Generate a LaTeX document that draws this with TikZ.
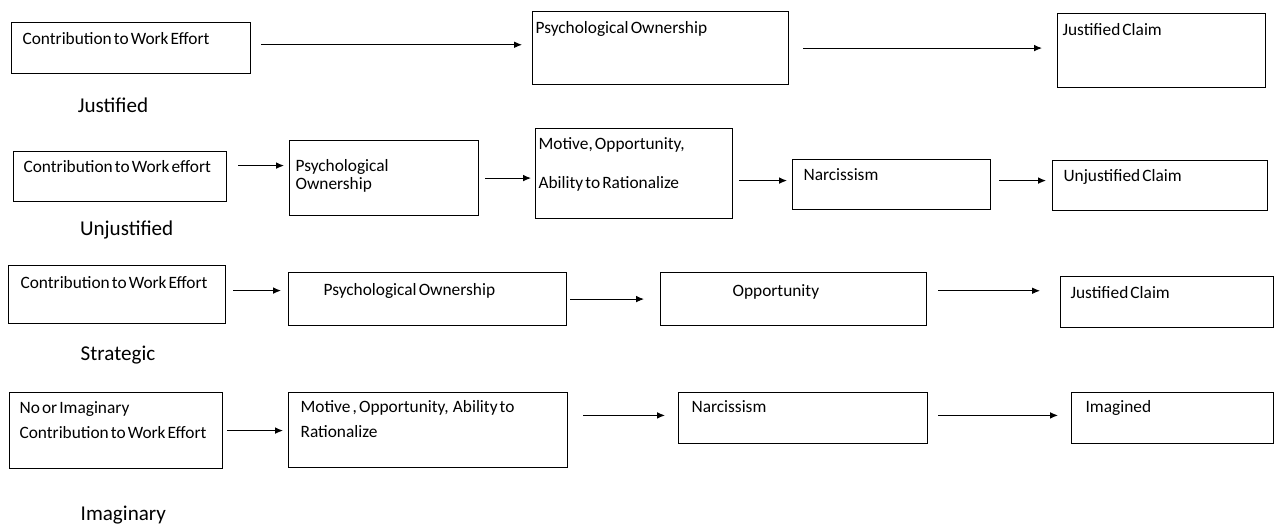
\documentclass[tikz,border=0pt]{standalone}
\usepackage{fontspec}
\setmainfont{Carlito}
\usepackage{tikz}
\usetikzlibrary{arrows.meta}

\begin{document}
\begin{tikzpicture}[
    box/.style={draw, line width=1pt, anchor=north west, align=left, inner ysep=0pt,
        font=\fontsize{14.8}{17.5}\selectfont,
        execute at begin node={\spaceskip=1.8pt plus 0.7pt\relax\hyphenpenalty=10000\relax}},
    kind/.style={anchor=base, font=\fontsize{18}{22}\selectfont},
    flow/.style={-{Latex[length=2.4mm,width=2mm]}, line width=0.8pt}
]
    \useasboundingbox (0,0) rectangle (38.28,15.72);

    % Justified
    \node[box, inner xsep=0.33cm, text width=6.51cm, text height=0.66cm, text depth=0.87cm] (j1) at (0.33,15.06) {Contribution to Work Effort};
    \node[box, inner xsep=0.09cm, text width=7.50cm, text height=0.66cm, text depth=1.53cm] (j2) at (15.96,15.39) {Psychological Ownership};
    \node[box, inner xsep=0.15cm, text width=5.94cm, text height=0.66cm, text depth=1.56cm] (j3) at (31.71,15.33) {Justified Claim};
    \node[kind] (jl) at (3.39,12.33) {Justified};

    \draw[flow, shorten <=0.3cm, shorten >=0.3cm] ([yshift=0.1cm]j1.east) -- ([yshift=0.1cm]j1.east -| j2.west);
    \draw[flow, shorten <=0.42cm, shorten >=0.45cm] (j2.east) -- (j2.east -| j3.west);

    % Unjustified
    \node[box, inner xsep=0.3cm, text width=5.79cm, text height=0.63cm, text depth=0.87cm] (u1) at (0.39,11.19) {Contribution to Work effort};
    \node[box, inner xsep=0.18cm, text width=5.31cm, text height=0.93cm, text depth=1.32cm] (u2) at (8.67,11.52) {Psychological\\[-2.5pt]Ownership};
    \node[box, inner xsep=0.09cm, text width=5.73cm, text height=0.63cm, text depth=2.07cm] (u3) at (16.05,11.88) {Motive, Opportunity,\\[15.5pt]Ability to Rationalize};
    \node[box, inner xsep=0.33cm, text width=5.28cm, text height=0.63cm, text depth=0.87cm] (u4) at (23.76,10.95) {Narcissism};
    \node[box, inner xsep=0.33cm, text width=5.79cm, text height=0.63cm, text depth=0.87cm] (u5) at (31.56,10.92) {Unjustified Claim};
    \node[kind] (ul) at (3.80,8.67) {Unjustified};

    \draw[flow, shorten <=0.33cm, shorten >=0.15cm] ([yshift=0.33cm]u1.east) -- ([yshift=0.33cm]u1.east -| u2.west);
    \draw[flow, shorten <=0.18cm, shorten >=0.12cm] (u2.east) -- (u2.east -| u3.west);
    \draw[flow, shorten <=0.18cm, shorten >=0.15cm] ([yshift=-0.21cm]u3.east) -- ([yshift=-0.21cm]u3.east -| u4.west);
    \draw[flow, shorten <=0.24cm, shorten >=0.18cm] ([yshift=0.12cm]u4.east) -- ([yshift=0.12cm]u4.east -| u5.west);

    % Strategic
    \node[box, inner xsep=0.36cm, text width=5.79cm, text height=0.69cm, text depth=1.05cm] (s1) at (0.24,7.77) {Contribution to Work Effort};
    \node[box, inner xsep=1.05cm, text width=6.24cm, text height=0.69cm, text depth=0.90cm] (s2) at (8.64,7.56) {Psychological Ownership};
    \node[box, inner xsep=2.16cm, text width=3.66cm, text height=0.72cm, text depth=0.87cm] (s3) at (19.80,7.56) {Opportunity};
    \node[box, inner xsep=0.30cm, text width=5.79cm, text height=0.66cm, text depth=0.87cm] (s4) at (31.80,7.44) {Justified Claim};
    \node[kind] (sl) at (3.54,4.92) {Strategic};

    \draw[flow, shorten <=0.21cm, shorten >=0.21cm] ([yshift=0.12cm]s1.east) -- ([yshift=0.12cm]s1.east -| s2.west);
    \draw[flow, shorten <=0.09cm, shorten >=0.48cm] (s2.east) -- (s2.east -| s3.west);
    \draw[flow, shorten <=0.33cm, shorten >=0.6cm] ([yshift=0.25cm]s3.east) -- ([yshift=0.25cm]s3.east -| s4.west);

    % Imaginary
    \node[box, inner xsep=0.30cm, text width=5.79cm, text height=0.63cm, text depth=1.65cm] (i1) at (0.27,3.96) {No or Imaginary\\[3.8pt]Contribution to Work Effort};
    \node[box, inner xsep=0.36cm, text width=7.65cm, text height=0.60cm, text depth=1.65cm] (i2) at (8.64,3.96) {Motive , Opportunity,~ Ability to\\[3.8pt]Rationalize};
    \node[box, inner xsep=0.39cm, text width=6.69cm, text height=0.60cm, text depth=0.93cm] (i3) at (20.34,3.96) {Narcissism};
    \node[box, inner xsep=0.42cm, text width=5.22cm, text height=0.60cm, text depth=0.93cm] (i4) at (32.13,3.96) {Imagined};
    \node[kind] (il) at (3.70,0.12) {Imaginary};

    \draw[flow, shorten <=0.12cm, shorten >=0.15cm] (i1.east) -- (i1.east -| i2.west);
    \draw[flow, shorten <=0.45cm, shorten >=0.39cm] ([yshift=0.44cm]i2.east) -- ([yshift=0.44cm]i2.east -| i3.west);
    \draw[flow, shorten <=0.30cm, shorten >=0.39cm] ([yshift=0.08cm]i3.east) -- ([yshift=0.08cm]i3.east -| i4.west);

\end{tikzpicture}
\end{document}
